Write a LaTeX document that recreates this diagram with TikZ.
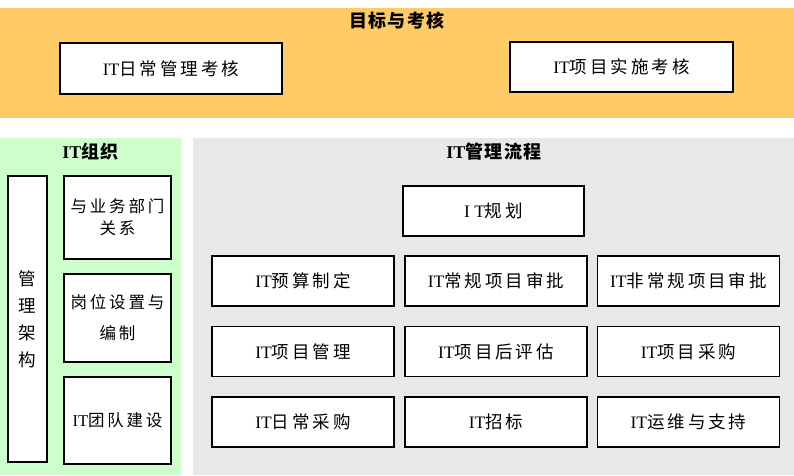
\documentclass[tikz,border=0pt]{standalone}
\usepackage{fontspec}
\setmainfont{Liberation Serif}
\newfontfamily\cjk[LetterSpace=17]{Noto Sans CJK SC}
\newfontfamily\cjkbf[LetterSpace=8]{Noto Sans CJK SC}
\definecolor{bandorange}{RGB}{254,203,102}
\definecolor{orggreen}{RGB}{204,255,204}
\definecolor{flowgray}{RGB}{232,232,232}
\tikzset{
	itembox/.style={draw, line width=1.4pt, fill=white, inner sep=0pt, align=center,
		font=\cjk\fontsize{17.5}{21}\selectfont},
	flowbox/.style={itembox, minimum width=182, minimum height=50},
	paneltitle/.style={inner sep=0pt, font=\cjkbf\bfseries\fontsize{18}{21}\selectfont}
}
\begin{document}
\begin{tikzpicture}[x=1pt, y=-1pt]
	\useasboundingbox (0,0) rectangle (794,475);
	
	% ==================== 目标与考核 ====================
	\fill[bandorange] (0,8) rectangle (794,118);
	\node[paneltitle] (goaltitle) at (397,21) {目标与考核};
	\node[itembox, minimum width=222, minimum height=51] (dailyeval) at (171,68.5) {\textrm{IT}日常管理考核};
	\node[itembox, minimum width=223, minimum height=50] (projeval) at (621.5,67) {\textrm{IT}项目实施考核};
	
	% ==================== IT组织 ====================
	\fill[orggreen] (0,138) rectangle (181,475);
	\node[paneltitle] (orgtitle) at (90.5,152) {\textrm{IT}组织};
	\node[itembox, minimum width=39, minimum height=286, font=\cjk\fontsize{17.5}{27}\selectfont] (mgmt) at (27.5,319) {管\\理\\架\\构};
	\node[itembox, minimum width=107, minimum height=83, font=\cjk\fontsize{16.5}{22}\selectfont] (bizrel) at (117.5,217.5) {与业务部门\\关系};
	\node[itembox, minimum width=107, minimum height=88, font=\cjk\fontsize{16.5}{31}\selectfont] (posts) at (117.5,318) {岗位设置与\\编制};
	\node[itembox, minimum width=107, minimum height=87, font=\cjk\fontsize{16.5}{21}\selectfont] (team) at (117.5,420.5) {\textrm{IT}团队建设};
	
	% ==================== IT管理流程 ====================
	\fill[flowgray] (193,138) rectangle (794,475);
	\node[paneltitle] (flowtitle) at (494,152) {\textrm{IT}管理流程};
	\node[flowbox, minimum width=181] (plan) at (493.5,211) {\textrm{I T}规划};
	
	\node[flowbox] (budget) at (303,281) {\textrm{IT}预算制定};
	\node[flowbox] (regappr) at (496,281) {\textrm{IT}常规项目审批};
	\node[flowbox] (irrappr) at (688.5,281) {\textrm{IT}非常规项目审批};
	
	\node[flowbox] (projmgmt) at (303,351.5) {\textrm{IT}项目管理};
	\node[flowbox] (posteval) at (496,351.5) {\textrm{IT}项目后评估};
	\node[flowbox] (projbuy) at (688.5,351.5) {\textrm{IT}项目采购};
	
	\node[flowbox] (dailybuy) at (303,422) {\textrm{IT}日常采购};
	\node[flowbox] (bidding) at (496,422) {\textrm{IT}招标};
	\node[flowbox] (ops) at (688.5,422) {\textrm{IT}运维与支持};
	
\end{tikzpicture}
\end{document}
